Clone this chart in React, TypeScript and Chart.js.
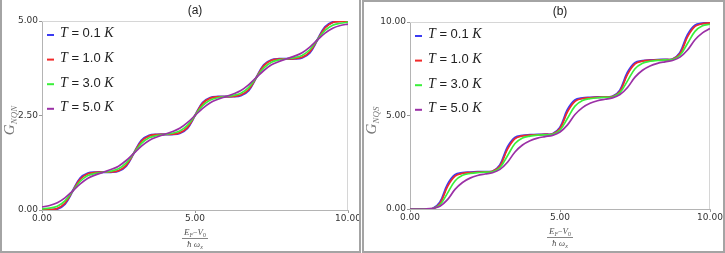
import React, { useEffect, useRef } from 'react';
import { Chart, registerables } from 'chart.js';

Chart.register(...registerables);

// ---------- data ----------
const X_VALUES = [0, 0.25, 0.5, 0.75, 1, 1.25, 1.5, 1.75, 2, 2.25, 2.5, 2.75, 3, 3.25, 3.5, 3.75, 4, 4.25, 4.5, 4.75, 5, 5.25, 5.5, 5.75, 6, 6.25, 6.5, 6.75, 7, 7.25, 7.5, 7.75, 8, 8.25, 8.5, 8.75, 9, 9.25, 9.5, 9.75, 10];

const TEMPERATURES = ['0.1', '1.0', '3.0', '5.0'];

// panel (a): G_NQN
const NQN_T01 = [0, 0.003, 0.03, 0.16, 0.5, 0.84, 0.97, 0.997, 1.0, 1.003, 1.03, 1.16, 1.5, 1.84, 1.97, 1.997, 2.0, 2.003, 2.03, 2.16, 2.5, 2.84, 2.97, 2.997, 3.0, 3.003, 3.03, 3.16, 3.5, 3.84, 3.97, 3.997, 4.0, 4.003, 4.03, 4.16, 4.5, 4.84, 4.97, 4.997, 5.0];
const NQN_T10 = [0, 0.005, 0.04, 0.18, 0.5, 0.82, 0.96, 0.995, 1.0, 1.005, 1.04, 1.18, 1.5, 1.82, 1.96, 1.995, 2.0, 2.005, 2.04, 2.18, 2.5, 2.82, 2.96, 2.995, 3.0, 3.005, 3.04, 3.18, 3.5, 3.82, 3.96, 3.995, 4.0, 4.005, 4.04, 4.18, 4.5, 4.82, 4.96, 4.99, 5.0];
const NQN_T30 = [0.03, 0.05, 0.10, 0.24, 0.5, 0.76, 0.91, 0.97, 1.0, 1.03, 1.09, 1.24, 1.5, 1.76, 1.91, 1.97, 2.0, 2.03, 2.09, 2.24, 2.5, 2.76, 2.91, 2.97, 3.0, 3.03, 3.09, 3.24, 3.5, 3.76, 3.91, 3.97, 4.0, 4.03, 4.09, 4.24, 4.5, 4.75, 4.89, 4.94, 4.97];
const NQN_T50 = [0.08, 0.12, 0.19, 0.32, 0.5, 0.69, 0.84, 0.93, 1.0, 1.07, 1.16, 1.31, 1.5, 1.69, 1.84, 1.93, 2.0, 2.07, 2.16, 2.31, 2.5, 2.69, 2.84, 2.93, 3.0, 3.07, 3.16, 3.31, 3.5, 3.69, 3.84, 3.93, 4.0, 4.07, 4.16, 4.31, 4.5, 4.68, 4.81, 4.88, 4.92];

// panel (b): G_NQS
const NQS_T01 = [0, 0, 0, 0.01, 0.35, 1.3, 1.82, 1.93, 1.96, 1.98, 1.99, 2.01, 2.35, 3.3, 3.82, 3.93, 3.96, 3.98, 3.99, 4.01, 4.35, 5.3, 5.82, 5.93, 5.96, 5.98, 5.99, 6.01, 6.35, 7.3, 7.82, 7.93, 7.96, 7.98, 7.99, 8.01, 8.35, 9.3, 9.82, 9.93, 9.96];
const NQS_T10 = [0, 0, 0, 0.01, 0.3, 1.2, 1.76, 1.91, 1.95, 1.97, 1.99, 2.01, 2.3, 3.2, 3.76, 3.91, 3.95, 3.97, 3.99, 4.01, 4.3, 5.2, 5.76, 5.91, 5.95, 5.97, 5.99, 6.01, 6.3, 7.2, 7.76, 7.91, 7.95, 7.97, 7.99, 8.01, 8.3, 9.2, 9.76, 9.91, 9.95];
const NQS_T30 = [0, 0, 0, 0.02, 0.22, 0.85, 1.5, 1.8, 1.9, 1.95, 1.97, 1.99, 2.22, 2.85, 3.5, 3.8, 3.9, 3.95, 3.97, 3.99, 4.22, 4.85, 5.5, 5.8, 5.9, 5.95, 5.97, 5.99, 6.22, 6.85, 7.5, 7.8, 7.9, 7.95, 7.97, 7.99, 8.22, 8.85, 9.5, 9.8, 9.88];
const NQS_T50 = [0, 0, 0, 0.03, 0.15, 0.5, 1.05, 1.42, 1.65, 1.79, 1.87, 1.94, 2.12, 2.5, 3.05, 3.42, 3.65, 3.79, 3.87, 3.94, 4.12, 4.5, 5.05, 5.42, 5.65, 5.79, 5.87, 5.94, 6.12, 6.5, 7.05, 7.42, 7.65, 7.79, 7.87, 7.94, 8.12, 8.5, 9.05, 9.42, 9.65];

const X_TICKS = [0, 5, 10];
const Y_TICKS_A = [0, 2.5, 5];
const Y_TICKS_B = [0, 5, 10];

// ---------- styles ----------
const COLORS = ['#3b3bf2', '#f22a2a', '#3af03a', '#9b30a6'];
const WIDTHS = [2.2, 1.7, 1.7, 1.7];
const SERIF = '"Liberation Serif", "DejaVu Serif", serif';
const SANS = '"Liberation Sans", Arial, sans-serif';
const TICKFONT = '"DejaVu Sans", sans-serif';

type Run = { text: string; font: string; dy?: number };

function runsWidth(ctx: CanvasRenderingContext2D, runs: Run[]) {
  let w = 0;
  for (const r of runs) {
    ctx.font = r.font;
    w += ctx.measureText(r.text).width;
  }
  return w;
}
function drawRuns(ctx: CanvasRenderingContext2D, runs: Run[], x: number, y: number) {
  let cx = x;
  ctx.textAlign = 'left';
  ctx.textBaseline = 'alphabetic';
  for (const r of runs) {
    ctx.font = r.font;
    ctx.fillText(r.text, cx, y + (r.dy || 0));
    cx += ctx.measureText(r.text).width;
  }
}

function overlay(title: string, ySub: string) {
  return {
    id: 'overlay',
    beforeDatasetsDraw(chart: any) {
      const { ctx, chartArea: a } = chart;
      ctx.save();
      ctx.strokeStyle = '#d6d6d6';
      ctx.lineWidth = 1;
      ctx.beginPath();
      ctx.moveTo(a.left, a.top + 0.5);
      ctx.lineTo(a.right - 0.5, a.top + 0.5);
      ctx.lineTo(a.right - 0.5, a.bottom);
      ctx.stroke();
      ctx.restore();
    },
    afterDraw(chart: any) {
      const { ctx, chartArea: a } = chart;
      const cxm = (a.left + a.right) / 2;
      ctx.save();
      // title
      ctx.fillStyle = '#222';
      ctx.font = `12px ${SANS}`;
      ctx.textAlign = 'center';
      ctx.textBaseline = 'alphabetic';
      ctx.fillText(title, cxm, a.top - 7);

      // legend
      TEMPERATURES.forEach((t, i) => {
        const y = a.top + 13 + i * 24.6;
        ctx.fillStyle = COLORS[i];
        ctx.fillRect(a.left + 5, y, 7, 2);
        ctx.fillStyle = '#222';
        drawRuns(ctx, [
          { text: 'T', font: `italic 14px ${SERIF}` },
          { text: ' = ' + t + ' ', font: `13px ${SANS}` },
          { text: 'K', font: `italic 14px ${SERIF}` },
        ], a.left + 18, y + 3.3);
      });

      // y title (rotated)
      const yRuns: Run[] = [
        { text: 'G', font: `italic 15px ${SERIF}` },
        { text: ySub, font: `italic 9px ${SERIF}`, dy: 3 },
      ];
      const yw = runsWidth(ctx, yRuns);
      ctx.translate(14, (a.top + a.bottom) / 2 + 5);
      ctx.rotate(-Math.PI / 2);
      ctx.fillStyle = '#777';
      drawRuns(ctx, yRuns, -yw / 2, 0);
      ctx.setTransform(1, 0, 0, 1, 0, 0);

      // x title (fraction)
      ctx.fillStyle = '#555';
      const num: Run[] = [
        { text: 'E', font: `italic 9px ${SERIF}` },
        { text: 'F', font: `italic 6px ${SERIF}`, dy: 2 },
        { text: '\u2212', font: `8px ${SERIF}` },
        { text: 'V', font: `italic 9px ${SERIF}` },
        { text: '0', font: `6px ${SERIF}`, dy: 2 },
      ];
      const den: Run[] = [
        { text: '\u0127 ', font: `italic 9px ${SERIF}` },
        { text: '\u03c9', font: `italic 9px ${SERIF}` },
        { text: 'x', font: `italic 6px ${SERIF}`, dy: 2 },
      ];
      const nw = runsWidth(ctx, num);
      const dw = runsWidth(ctx, den);
      const lineY = a.bottom + 28;
      drawRuns(ctx, num, cxm - nw / 2, lineY - 3);
      drawRuns(ctx, den, cxm - dw / 2, lineY + 9);
      ctx.strokeStyle = '#666';
      ctx.lineWidth = 0.8;
      ctx.beginPath();
      ctx.moveTo(cxm - 13, lineY + 0.5);
      ctx.lineTo(cxm + 13, lineY + 0.5);
      ctx.stroke();
      ctx.restore();
    },
  };
}

type PanelCfg = {
  series: number[][];
  yMax: number;
  yTicks: number[];
  title: string;
  ySub: string;
  width: number;
  height: number;
  yAxisWidth: number;
  xAxisHeight: number;
  padTop: number;
  padRight: number;
};

function buildChart(canvas: HTMLCanvasElement, p: PanelCfg) {
  const datasets = p.series.map((ys, i) => ({
    label: `T = ${TEMPERATURES[i]} K`,
    data: X_VALUES.map((x, j) => ({ x, y: ys[j] })),
    borderColor: COLORS[i],
    borderWidth: WIDTHS[i],
    pointRadius: 0,
    fill: false,
    tension: 0.35,
    order: 4 - i,
  }));
  return new Chart(canvas, {
    type: 'line',
    data: { datasets },
    options: {
      animation: false,
      responsive: false,
      maintainAspectRatio: false,
      events: [],
      layout: { padding: { top: p.padTop, right: p.padRight, left: 0, bottom: 0 } },
      plugins: { legend: { display: false }, tooltip: { enabled: false }, title: { display: false } },
      scales: {
        x: {
          type: 'linear',
          min: 0,
          max: 10,
          afterBuildTicks: (s: any) => { s.ticks = X_TICKS.map((v) => ({ value: v })); },
          ticks: {
            callback: (v: any) => Number(v).toFixed(2),
            font: { family: TICKFONT, size: 9 },
            color: '#333',
            padding: 0,
            maxRotation: 0,
            autoSkip: false,
          },
          grid: { display: true, drawOnChartArea: false, tickLength: 3, color: '#9a9a9a' },
          border: { display: true, color: '#b4b4b4' },
          afterFit: (s: any) => { s.height = p.xAxisHeight; s.paddingLeft = 0; s.paddingRight = 0; },
        },
        y: {
          type: 'linear',
          min: 0,
          max: p.yMax,
          afterBuildTicks: (s: any) => { s.ticks = p.yTicks.map((v) => ({ value: v })); },
          ticks: {
            callback: (v: any) => Number(v).toFixed(2),
            font: { family: TICKFONT, size: 9 },
            color: '#333',
            padding: 1,
            autoSkip: false,
          },
          grid: { display: true, drawOnChartArea: false, tickLength: 3, color: '#9a9a9a' },
          border: { display: true, color: '#b4b4b4' },
          afterFit: (s: any) => { s.width = p.yAxisWidth; s.paddingTop = 0; s.paddingBottom = 0; },
        },
      },
    },
    plugins: [overlay(p.title, p.ySub)],
  });
}

function Panel(props: { cfg: PanelCfg; left: number }) {
  const ref = useRef<HTMLCanvasElement>(null);
  useEffect(() => {
    if (!ref.current) return;
    const chart = buildChart(ref.current, props.cfg);
    return () => chart.destroy();
  }, []);
  return (
    <canvas
      ref={ref}
      width={props.cfg.width}
      height={props.cfg.height}
      style={{ position: 'absolute', left: props.left, top: 0, width: props.cfg.width, height: props.cfg.height, display: 'block' }}
    />
  );
}

const PANEL_A: PanelCfg = {
  series: [NQN_T01, NQN_T10, NQN_T30, NQN_T50],
  yMax: 5,
  yTicks: Y_TICKS_A,
  title: '(a)',
  ySub: 'NQN',
  width: 365,
  height: 253,
  yAxisWidth: 42,
  xAxisHeight: 43,
  padTop: 21,
  padRight: 17,
};

const PANEL_B: PanelCfg = {
  series: [NQS_T01, NQS_T10, NQS_T30, NQS_T50],
  yMax: 10,
  yTicks: Y_TICKS_B,
  title: '(b)',
  ySub: 'NQS',
  width: 363,
  height: 253,
  yAxisWidth: 48,
  xAxisHeight: 44,
  padTop: 22,
  padRight: 15,
};

export default function App() {
  return (
    <div style={{ position: 'fixed', left: 0, top: 0, width: 725, height: 253, background: '#fff', overflow: 'hidden' }}>
      <Panel cfg={PANEL_A} left={0} />
      <Panel cfg={PANEL_B} left={362} />
      <div style={{ position: 'absolute', left: 0, top: -2, width: 361, height: 255, boxSizing: 'border-box', border: '2px solid #a4a4a4', pointerEvents: 'none' }} />
      <div style={{ position: 'absolute', left: 362, top: 0, width: 363, height: 253, boxSizing: 'border-box', border: '2px solid #a4a4a4', pointerEvents: 'none' }} />
    </div>
  );
}
